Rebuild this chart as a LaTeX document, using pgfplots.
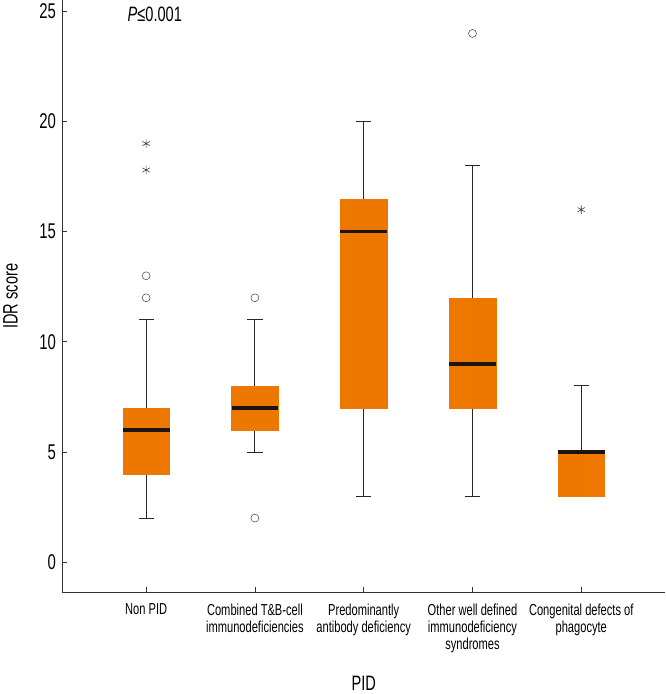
\documentclass[border=0pt]{standalone}
\usepackage{pgfplots}
\pgfplotsset{compat=1.18}
\usepgfplotslibrary{statistics}
\usepackage{fontspec}
\setmainfont{Liberation Sans}[FakeStretch=0.7]
\definecolor{boxor}{RGB}{238,119,0}
\definecolor{medc}{RGB}{30,20,15}
\begin{document}
\begin{tikzpicture}
\begin{axis}[
  scale only axis, width=605bp, height=594bp,
  xmin=0.23, xmax=5.77, ymin=-1.36, ymax=25.5,
  axis x line=bottom, axis y line=left,
  axis line style={-, black!80, line width=0.8pt},
  tick align=inside, major tick length=5bp,
  tick style={black!80, line width=0.8pt},
  ytick={0,5,10,15,20,25},
  xtick={1,2,3,4,5},
  xticklabels={Non PID, {Combined T\&B-cell\\immunodeficiencies}, {Predominantly\\antibody deficiency}, {Other well defined\\immunodeficiency\\syndromes}, {Congenital defects of\\phagocyte}},
  x tick label style={align=center, font=\fontsize{16}{17.5}\selectfont, yshift=-8bp},
  y tick label style={font=\fontsize{21.5}{24}\selectfont, xshift=-3bp},
  /pgf/number format/assume math mode=true,
  ylabel={IDR score},
  ylabel style={font=\fontsize{21}{24}\selectfont, at={(axis description cs:0,0.5)}, anchor=center, xshift=0bp, yshift=52bp},
  xlabel={PID},
  xlabel style={font=\fontsize{21}{24}\selectfont, at={(axis description cs:0.5,0)}, anchor=base, yshift=-99bp},
  boxplot/draw direction=y,
  boxplot/box extend=0.43,
  boxplot/whisker extend=0.14,
  boxplot/every box/.style={draw=boxor, fill=boxor, line width=0.3pt},
  boxplot/every whisker/.style={draw=black!85, line width=0.9pt},
  boxplot/every median/.style={draw=medc, line width=3.4pt},
  clip=false,
]
\addplot+[mark=none, black, boxplot prepared={draw position=1, lower whisker=2, lower quartile=4, median=6, upper quartile=7, upper whisker=11}] coordinates {};
\addplot+[mark=none, black, boxplot prepared={draw position=2, lower whisker=5, lower quartile=6, median=7, upper quartile=8, upper whisker=11}] coordinates {};
\addplot+[mark=none, black, boxplot prepared={draw position=3, lower whisker=3, lower quartile=7, median=15, upper quartile=16.5, upper whisker=20}] coordinates {};
\addplot+[mark=none, black, boxplot prepared={draw position=4, lower whisker=3, lower quartile=7, median=9, upper quartile=12, upper whisker=18}] coordinates {};
\addplot+[mark=none, black, boxplot prepared={draw position=5, lower whisker=3, lower quartile=3, median=5, upper quartile=5, upper whisker=8}] coordinates {};
% outliers (circles)
\addplot[only marks, mark=o, mark size=4pt, black!75, line width=0.5pt] coordinates {(1,12) (1,13) (2,12) (2,2) (4,24)};
% extreme values (asterisks)
\addplot[only marks, mark=asterisk, mark size=4.3pt, black!75, line width=0.6pt] coordinates {(1,17.8) (1,19) (5,16)};
\node[anchor=center, font=\fontsize{21}{24}\selectfont] at (axis cs:1.08,24.85) {\textit{P}≤0.001};
\end{axis}
\end{tikzpicture}
\end{document}
